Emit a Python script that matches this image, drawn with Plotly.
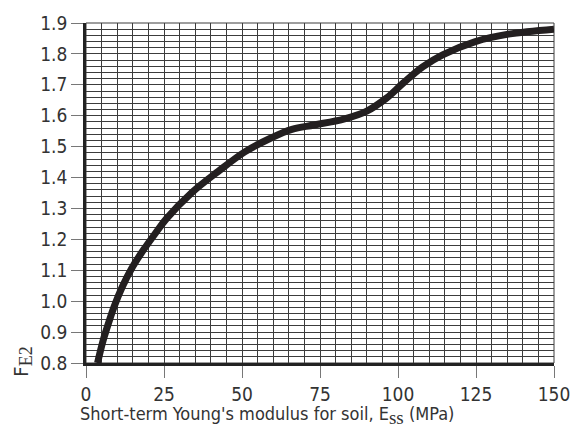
import plotly.graph_objects as go

# Data
E_ss = [3.7, 5.3, 6.9, 9.0, 11.6, 14.8, 18.5, 22.2, 25.8, 34.0, 42.4, 50.9, 59.3, 66.0,
        73.1, 82.6, 90.0, 96.3, 101.6, 107.9, 114.3, 124.8, 135.4, 150.0]
F_E2 = [0.80, 0.866, 0.919, 0.982, 1.046, 1.109, 1.167, 1.219, 1.267, 1.352, 1.42, 1.483,
        1.528, 1.556, 1.570, 1.589, 1.615, 1.657, 1.705, 1.758, 1.797, 1.840, 1.864, 1.88]

x_ticks = [0, 25, 50, 75, 100, 125, 150]
y_ticks = [0.8, 0.9, 1.0, 1.1, 1.2, 1.3, 1.4, 1.5, 1.6, 1.7, 1.8, 1.9]

FONT = "DejaVu Sans Condensed, DejaVu Sans, sans-serif"
SERIF = "Liberation Serif, DejaVu Serif, serif"
GRID = "#3c3c3c"

fig = go.Figure()
fig.add_trace(go.Scatter(
    x=E_ss, y=F_E2, mode="lines",
    line=dict(color="#231f20", width=7, shape="spline", smoothing=1.0),
    hoverinfo="skip", showlegend=False,
))

fig.update_layout(
    width=582, height=435,
    margin=dict(l=86, r=23, t=15, b=72),
    paper_bgcolor="white", plot_bgcolor="white",
    font=dict(family=FONT, size=19, color="#333333"),
    showlegend=False,
    xaxis=dict(
        range=[0, 150], tickvals=x_ticks, ticktext=[str(v) for v in x_ticks],
        ticks="outside", ticklen=12, tickwidth=1, tickcolor="#777777",
        showgrid=True, gridcolor=GRID, gridwidth=1,
        minor=dict(dtick=5, showgrid=True, gridcolor=GRID, gridwidth=1, ticks=""),
        showline=True, linecolor="#222222", linewidth=2.5,
        zeroline=False, tickfont=dict(family=FONT, size=19, color="#333333"),
    ),
    yaxis=dict(
        range=[0.8, 1.9], tickvals=y_ticks, ticktext=[f"{v:.1f}" for v in y_ticks],
        ticks="outside", ticklen=12, tickwidth=1, tickcolor="#777777",
        showgrid=True, gridcolor=GRID, gridwidth=1,
        minor=dict(dtick=0.02, tick0=0.8, showgrid=True, gridcolor=GRID, gridwidth=1, ticks=""),
        showline=True, linecolor="#222222", linewidth=2.5,
        zeroline=False, tickfont=dict(family=FONT, size=19, color="#333333"),
    ),
    shapes=[dict(type="rect", xref="paper", yref="paper", x0=0, y0=0, x1=1, y1=1,
                 line=dict(color=GRID, width=1), layer="below")],
    annotations=[
        dict(text="Short-term Young's modulus for soil, E<sub><span style='font-family:" + SERIF
                  + ";font-size:19px'>ss</span></sub> (MPa)",
             xref="paper", yref="paper", x=(78 - 86) / 473, y=-(417 - 363) / 348,
             xanchor="left", yanchor="middle", showarrow=False,
             font=dict(family=FONT, size=18, color="#333333")),
        dict(text="F<sub><span style='font-family:" + SERIF + ";font-size:18px'>E2</span></sub>",
             xref="paper", yref="paper", x=(21 - 86) / 473, y=-(362 - 363) / 348,
             xanchor="center", yanchor="middle", textangle=-90, showarrow=False,
             font=dict(family=FONT, size=20, color="#333333")),
    ],
)

fig.write_html("out.html")
